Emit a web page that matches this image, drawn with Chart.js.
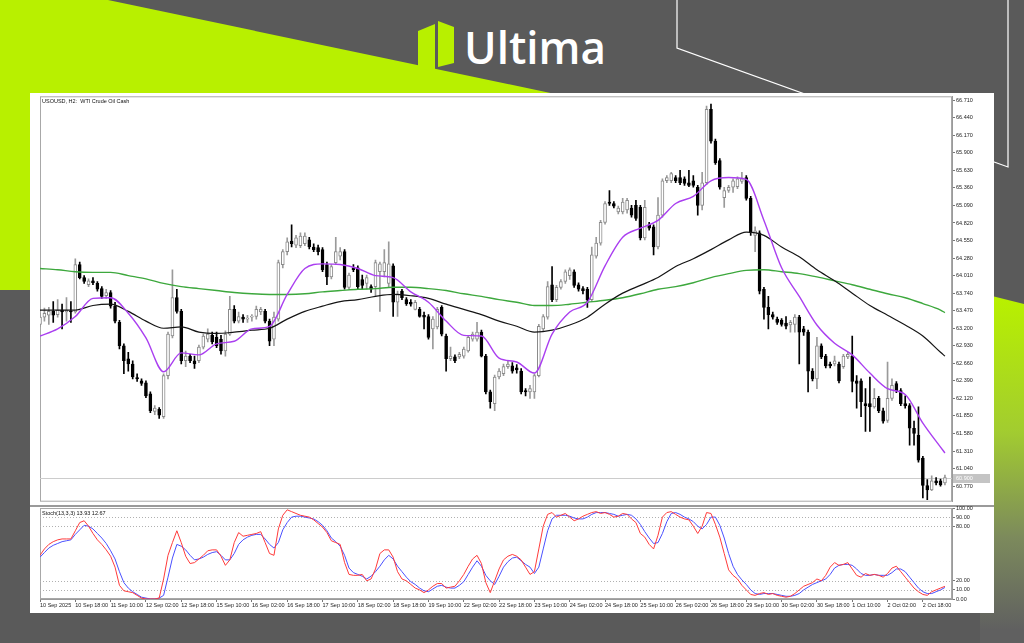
<!DOCTYPE html>
<html>
<head>
<meta charset="utf-8">
<title>USOUSD H2 - WTI Crude Oil Cash</title>
<script src="https://cdn.jsdelivr.net/npm/chart.js@4.4.1/dist/chart.umd.min.js"></script>
<style>
  html, body { margin: 0; padding: 0; }
  body { width: 1024px; height: 643px; position: relative; overflow: hidden; background: #5a5a5a; }
  #bg { position: absolute; left: 0; top: 0; }
  #sheet { position: absolute; left: 30px; top: 93px; width: 964px; height: 520px; background: #fff; }
  #splitter { position: absolute; left: 30px; top: 505px; width: 964px; height: 2px; background: #9a9a9a; }
  #priceChart { position: absolute; left: 30px; top: 92px; }
  #stochChart { position: absolute; left: 30px; top: 503px; }
</style>
</head>
<body>
<svg id="bg" width="1024" height="643">
  <defs>
    <linearGradient id="limeFade" gradientUnits="userSpaceOnUse" x1="0" y1="300" x2="0" y2="630">
      <stop offset="0" stop-color="#b8f000"/>
      <stop offset="0.4" stop-color="#a2cc30"/>
      <stop offset="0.72" stop-color="#7c8a5c"/>
      <stop offset="1" stop-color="#606060"/>
    </linearGradient>
  </defs>
  <polygon points="0,0 108,0 560,95 30,95 30,290 0,290" fill="#b8f000"/>
  <polygon points="980,293 1024,304 1024,643 980,643" fill="url(#limeFade)"/>
  <polyline points="677,0 677,48 1008,167 1008,0" fill="none" stroke="#ffffff" stroke-width="1.2"/>
  <polygon points="418,31 435,24 435,72 418,68" fill="#b8f000"/>
  <polygon points="438,21 454,27 454,63 438,67" fill="#b8f000"/>
  <text x="464" y="64" font-family="Open Sans, Lato, sans-serif" font-weight="600" font-size="45" fill="#ffffff" textLength="142" lengthAdjust="spacingAndGlyphs">Ultima</text>
</svg>
<div id="sheet"></div>
<div id="splitter"></div>
<canvas id="priceChart" width="964" height="414"></canvas>
<canvas id="stochChart" width="964" height="110"></canvas>
<script>
// H2 candles, 8 per row (one row = one time label step)
const opens = [
  63.26, 63.37, 63.40, 63.46, 63.41, 63.48, 63.45, 63.46,
  63.45, 64.18, 63.98, 63.87, 63.93, 63.89, 63.81, 63.70,
  63.75, 63.54, 63.29, 62.93, 62.73, 62.65, 62.44, 62.39,
  62.36, 62.19, 61.92, 61.95, 61.84, 62.47, 63.08, 63.67,
  63.46, 62.70, 62.77, 62.70, 62.70, 62.91, 63.03, 63.09,
  63.06, 63.03, 62.85, 63.11, 63.49, 63.31, 63.37, 63.34,
  63.37, 63.38, 63.45, 63.46, 63.31, 63.03, 63.34, 64.18,
  64.38, 64.54, 64.48, 64.47, 64.50, 64.56, 64.45, 64.44,
  64.41, 64.18, 63.99, 64.21, 64.31, 64.38, 63.83, 64.13,
  64.13, 63.95, 63.89, 63.84, 63.84, 64.07, 64.07, 63.89,
  64.16, 63.60, 63.77, 63.64, 63.60, 63.49, 63.49, 63.40,
  63.38, 63.19, 63.22, 63.52, 63.08, 62.73, 62.76, 62.76,
  62.77, 62.85, 63.03, 63.03, 63.14, 62.77, 62.22, 62.04,
  62.45, 62.50, 62.61, 62.62, 62.59, 62.54, 62.24, 62.22,
  62.22, 62.47, 63.19, 63.37, 63.87, 63.64, 63.83, 63.92,
  64.01, 64.07, 63.87, 63.81, 63.80, 63.64, 64.31, 64.51,
  64.83, 65.14, 65.12, 64.99, 64.99, 65.02, 65.05, 65.09,
  65.06, 64.59, 64.79, 64.76, 64.45, 64.94, 65.47, 65.47,
  65.52, 65.52, 65.50, 65.44, 65.47, 65.37, 65.09, 65.44,
  66.57, 66.08, 65.78, 65.21, 65.32, 65.37, 65.38, 65.46,
  65.52, 65.20, 64.63, 64.67, 63.80, 63.52, 63.41, 63.34,
  63.32, 63.28, 63.25, 63.26, 63.37, 63.19, 63.14, 62.54,
  62.42, 62.93, 62.77, 62.65, 62.65, 62.65, 62.61, 62.76,
  62.77, 62.39, 62.39, 62.04, 62.04, 61.99, 62.12, 61.93,
  61.78, 62.12, 62.35, 62.24, 62.04, 62.01, 61.66, 61.55,
  61.20, 60.78, 60.71, 60.85, 60.85, 60.82
];
const highs = [
  63.43, 63.51, 63.52, 63.61, 63.64, 63.57, 63.67, 63.61,
  64.27, 64.22, 64.01, 63.96, 63.98, 63.92, 63.84, 63.80,
  63.78, 63.60, 63.32, 62.96, 62.83, 62.70, 62.50, 62.42,
  62.39, 62.22, 62.01, 61.98, 62.50, 63.14, 64.10, 63.80,
  63.49, 62.85, 62.80, 62.77, 62.94, 63.11, 63.19, 63.14,
  63.14, 63.09, 63.16, 63.69, 63.55, 63.45, 63.41, 63.40,
  63.41, 63.54, 63.52, 63.49, 63.34, 63.45, 64.25, 64.41,
  64.59, 64.79, 64.63, 64.67, 64.67, 64.60, 64.50, 64.48,
  64.44, 64.22, 64.18, 64.60, 64.44, 64.41, 64.05, 64.18,
  64.16, 64.02, 64.02, 63.87, 64.25, 64.22, 64.41, 64.53,
  64.19, 63.77, 63.80, 63.67, 63.64, 63.63, 63.52, 63.45,
  63.41, 63.38, 63.52, 63.55, 63.11, 62.91, 62.79, 62.83,
  62.91, 63.09, 63.14, 63.29, 63.17, 62.80, 62.25, 62.48,
  62.58, 62.65, 62.70, 62.67, 62.64, 62.58, 62.27, 62.32,
  62.50, 63.26, 63.41, 63.92, 64.15, 63.86, 63.95, 64.10,
  64.13, 64.10, 63.90, 63.84, 63.83, 64.45, 64.60, 64.86,
  65.15, 65.32, 65.15, 65.08, 65.20, 65.20, 65.09, 65.17,
  65.09, 65.17, 64.83, 64.79, 65.21, 65.50, 65.55, 65.60,
  65.55, 65.63, 65.53, 65.63, 65.55, 65.40, 65.60, 66.62,
  66.65, 66.11, 65.81, 65.37, 65.40, 65.50, 65.53, 65.60,
  65.55, 65.23, 64.76, 64.70, 63.83, 63.69, 63.45, 63.37,
  63.35, 63.38, 63.32, 63.41, 63.40, 63.23, 63.17, 62.58,
  63.06, 62.96, 62.80, 62.68, 62.77, 62.68, 62.80, 62.83,
  63.08, 62.47, 62.42, 62.27, 62.45, 62.27, 62.15, 61.97,
  62.68, 62.42, 62.38, 62.27, 62.16, 62.04, 61.77, 61.99,
  61.23, 60.87, 60.93, 60.90, 60.88, 60.94
];
const lows = [
  63.22, 63.31, 63.26, 63.29, 63.37, 63.19, 63.31, 63.29,
  63.43, 63.96, 63.89, 63.84, 63.87, 63.77, 63.66, 63.66,
  63.51, 63.28, 62.88, 62.50, 62.54, 62.42, 62.38, 62.32,
  62.13, 61.90, 61.87, 61.81, 61.81, 62.42, 63.05, 63.43,
  62.65, 62.61, 62.67, 62.58, 62.67, 62.88, 62.99, 62.96,
  62.90, 62.80, 62.77, 63.09, 63.28, 63.28, 63.29, 63.29,
  63.31, 63.34, 63.41, 63.28, 62.93, 62.93, 63.31, 64.13,
  64.33, 64.45, 64.44, 64.44, 64.47, 64.42, 64.38, 64.33,
  64.07, 63.87, 63.96, 64.18, 64.25, 63.80, 63.80, 64.07,
  63.81, 63.80, 63.80, 63.75, 63.69, 63.46, 63.99, 63.84,
  63.38, 63.38, 63.64, 63.55, 63.54, 63.48, 63.37, 63.19,
  63.03, 62.88, 63.19, 63.08, 62.54, 62.70, 62.67, 62.73,
  62.74, 62.83, 63.00, 63.00, 62.76, 62.19, 61.97, 61.93,
  62.42, 62.47, 62.58, 62.51, 62.51, 62.19, 62.16, 62.12,
  62.12, 62.45, 63.15, 63.34, 63.61, 63.61, 63.80, 63.89,
  63.95, 63.83, 63.77, 63.73, 63.52, 63.61, 64.28, 64.48,
  64.80, 65.09, 65.05, 64.96, 64.96, 64.97, 64.91, 64.86,
  64.56, 64.56, 64.71, 64.33, 64.42, 64.91, 65.44, 65.44,
  65.44, 65.41, 65.40, 65.38, 65.37, 64.94, 65.02, 65.41,
  66.05, 65.72, 65.34, 65.06, 65.29, 65.29, 65.35, 65.43,
  65.17, 64.63, 64.38, 63.73, 63.34, 63.19, 63.34, 63.26,
  63.23, 63.19, 63.14, 63.14, 62.65, 63.09, 62.22, 62.39,
  62.27, 62.73, 62.59, 62.59, 62.62, 62.36, 62.58, 62.73,
  62.22, 61.97, 61.84, 61.61, 61.61, 61.97, 61.90, 61.74,
  61.75, 62.09, 62.21, 62.01, 61.97, 61.40, 61.40, 61.14,
  60.59, 60.56, 60.70, 60.79, 60.77, 60.79
];
const closes = [
  63.37, 63.43, 63.46, 63.40, 63.48, 63.45, 63.48, 63.45,
  64.18, 63.98, 63.92, 63.93, 63.90, 63.80, 63.69, 63.75,
  63.54, 63.31, 62.93, 62.70, 62.65, 62.45, 62.42, 62.35,
  62.16, 61.93, 61.97, 61.86, 62.47, 63.11, 63.67, 63.46,
  62.70, 62.77, 62.70, 62.65, 62.91, 63.08, 63.11, 62.99,
  62.93, 62.85, 63.11, 63.49, 63.31, 63.38, 63.34, 63.35,
  63.38, 63.49, 63.49, 63.31, 63.00, 63.37, 64.21, 64.38,
  64.53, 64.50, 64.59, 64.62, 64.62, 64.45, 64.41, 64.38,
  64.10, 63.99, 64.15, 64.38, 64.38, 63.83, 64.02, 64.10,
  63.84, 63.86, 63.98, 63.80, 64.21, 64.19, 64.21, 64.19,
  63.60, 63.73, 63.67, 63.58, 63.57, 63.60, 63.38, 63.37,
  63.06, 63.34, 63.49, 63.11, 62.73, 62.77, 62.70, 62.80,
  62.88, 63.06, 63.11, 63.14, 62.77, 62.22, 62.07, 62.45,
  62.54, 62.61, 62.65, 62.54, 62.56, 62.22, 62.22, 62.27,
  62.47, 63.23, 63.38, 63.84, 63.64, 63.83, 63.92, 64.07,
  64.10, 63.86, 63.80, 63.78, 63.64, 64.33, 64.51, 64.83,
  65.12, 65.12, 65.08, 65.05, 65.14, 65.17, 64.94, 64.89,
  64.59, 65.06, 64.74, 64.45, 64.94, 65.47, 65.52, 65.58,
  65.47, 65.44, 65.43, 65.40, 65.40, 65.09, 65.44, 66.57,
  66.08, 65.75, 65.37, 65.32, 65.37, 65.47, 65.50, 65.50,
  65.20, 64.67, 64.70, 63.77, 63.52, 63.41, 63.37, 63.29,
  63.26, 63.23, 63.29, 63.37, 63.14, 63.14, 62.54, 62.42,
  62.93, 62.76, 62.62, 62.62, 62.70, 62.39, 62.77, 62.80,
  62.38, 62.35, 62.07, 62.01, 61.99, 62.12, 61.93, 61.77,
  62.12, 62.32, 62.24, 62.04, 62.01, 61.66, 61.58, 61.17,
  60.78, 60.71, 60.85, 60.82, 60.79, 60.90
];

// moving averages read every 4 bars (bar index in maBars)
const maBars = [
  0, 4, 8, 12, 16, 20, 24, 28, 32, 36, 40, 44, 48, 52, 56, 60, 64, 68, 72, 76, 80, 84, 88, 92, 96, 100,
  104, 108, 112, 116, 120, 124, 128, 132, 136, 140, 144, 148, 152, 156, 160, 164, 168, 172, 176, 180,
  184, 188, 192, 196, 200, 204, 205
];
const maFast = [
  63.08, 63.19, 63.38, 63.66, 63.67, 63.43, 63.05, 62.53, 62.82, 62.79, 62.96, 63.00, 63.19, 63.23,
  63.72, 64.12, 64.19, 64.18, 64.12, 64.01, 63.98, 63.76, 63.60, 63.31, 63.09, 63.08, 62.74, 62.68,
  62.51, 63.11, 63.45, 63.60, 64.16, 64.60, 64.74, 64.86, 65.12, 65.23, 65.47, 65.52, 65.49, 64.86,
  64.13, 63.69, 63.25, 62.97, 62.79, 62.51, 62.27, 62.18, 61.74, 61.37, 61.28
];
const maMid = [
  63.48, 63.48, 63.48, 63.55, 63.57, 63.46, 63.31, 63.20, 63.22, 63.14, 63.12, 63.14, 63.17, 63.20,
  63.34, 63.46, 63.54, 63.61, 63.64, 63.69, 63.72, 63.70, 63.66, 63.57, 63.49, 63.41, 63.31, 63.23,
  63.14, 63.17, 63.25, 63.37, 63.57, 63.74, 63.86, 63.98, 64.15, 64.27, 64.41, 64.56, 64.68, 64.63,
  64.45, 64.30, 64.10, 63.93, 63.74, 63.55, 63.40, 63.25, 63.08, 62.83, 62.77
];
const maLong = [
  64.12, 64.10, 64.07, 64.06, 64.06, 64.01, 63.96, 63.89, 63.84, 63.81, 63.78, 63.75, 63.73, 63.72,
  63.72, 63.73, 63.76, 63.78, 63.80, 63.81, 63.83, 63.83, 63.81, 63.78, 63.73, 63.69, 63.64, 63.60,
  63.55, 63.55, 63.57, 63.60, 63.63, 63.67, 63.73, 63.80, 63.84, 63.90, 63.98, 64.04, 64.09, 64.10,
  64.07, 64.04, 63.99, 63.93, 63.87, 63.80, 63.73, 63.67, 63.58, 63.48, 63.44
];

// Stoch(13,3,3): main (red) and signal (blue), one value per bar
const stochMain = [
  48, 55, 60, 63, 65, 66, 66, 66, 75, 84,
  86, 80, 72, 65, 60, 54, 47, 35, 15, 9,
  8, 7, 4, 1, 0, 0, 0, 1, 22, 48,
  62, 75, 62, 47, 39, 40, 44, 48, 53, 54,
  54, 47, 37, 43, 62, 73, 69, 70, 71, 72,
  74, 62, 50, 48, 77, 92, 98, 96, 94, 92,
  91, 90, 87, 83, 79, 73, 64, 62, 60, 40,
  27, 26, 26, 27, 20, 22, 33, 50, 54, 54,
  46, 30, 22, 20, 16, 12, 10, 7, 10, 14,
  17, 17, 12, 13, 14, 20, 27, 36, 44, 48,
  39, 18, 7, 20, 33, 43, 47, 49, 47, 43,
  35, 27, 30, 55, 80, 93, 95, 90, 92, 94,
  90, 86, 88, 91, 93, 95, 96, 94, 95, 93,
  90, 91, 94, 93, 88, 84, 72, 68, 60, 55,
  70, 90, 95, 96, 93, 90, 88, 87, 80, 72,
  80, 95, 94, 82, 68, 50, 32, 26, 22, 15,
  10, 5, 4, 6, 7, 5, 6, 4, 3, 2,
  3, 6, 10, 14, 16, 18, 22, 20, 26, 35,
  40, 37, 38, 40, 33, 26, 24, 28, 26, 27,
  26, 24, 28, 34, 36, 30, 24, 18, 12, 8,
  5, 4, 8, 10, 12, 13.93
];
const stochSignal = [
  46, 51, 56, 59, 61, 63, 64, 65, 71, 76,
  81, 80, 77, 72, 67, 61, 53, 44, 30, 18,
  12, 8, 5, 2, 1, 0, 0, 1, 4, 24,
  45, 60, 58, 54, 48, 43, 44, 46, 49, 51,
  52, 48, 43, 43, 50, 60, 65, 68, 70, 71,
  71, 66, 60, 56, 62, 76, 84, 90, 91, 91,
  90, 89, 88, 85, 81, 75, 67, 63, 58, 48,
  34, 29, 27, 25, 22, 25, 30, 36, 43, 48,
  44, 36, 30, 24, 19, 16, 12, 9, 8, 11,
  14, 15, 13, 12, 12, 15, 19, 27, 35, 42,
  36, 26, 20, 16, 25, 35, 41, 45, 46, 42,
  38, 35, 28, 35, 55, 75, 88, 92, 92, 92,
  91, 89, 88, 88, 90, 93, 95, 95, 95, 94,
  93, 91, 92, 93, 92, 88, 82, 74, 67, 61,
  62, 72, 85, 94, 95, 93, 90, 88, 85, 80,
  77, 82, 90, 90, 81, 67, 50, 36, 27, 21,
  16, 10, 6, 5, 6, 6, 6, 5, 4, 3,
  3, 4, 6, 10, 13, 16, 18, 20, 22, 27,
  34, 37, 38, 38, 37, 33, 28, 26, 26, 27,
  26, 26, 26, 29, 33, 33, 30, 24, 18, 12,
  8, 6, 6, 8, 10, 12.67
];

// axis ticks
const priceTicks = [66.71, 66.44, 66.17, 65.90, 65.63, 65.36, 65.09, 64.82, 64.55, 64.28, 64.01, 63.74,
  63.47, 63.20, 62.93, 62.66, 62.39, 62.12, 61.85, 61.58, 61.31, 61.04, 60.77];
const stochTicks = [100, 90, 80, 20, 10, 0];
const stochLevels = [90, 80, 20, 10];
const timeLabels = ['10 Sep 2025', '10 Sep 18:00', '11 Sep 10:00', '12 Sep 02:00', '12 Sep 18:00',
  '15 Sep 10:00', '16 Sep 02:00', '16 Sep 18:00', '17 Sep 10:00', '18 Sep 02:00', '18 Sep 18:00',
  '19 Sep 10:00', '22 Sep 02:00', '22 Sep 18:00', '23 Sep 10:00', '24 Sep 02:00', '24 Sep 18:00',
  '25 Sep 10:00', '26 Sep 02:00', '26 Sep 18:00', '29 Sep 10:00', '30 Sep 02:00', '30 Sep 18:00',
  '1 Oct 10:00', '2 Oct 02:00', '2 Oct 18:00'];

const BARS_PER_LABEL = 8;
const X_MIN = 0, X_MAX = 206.6;

Chart.defaults.font.family = "'Liberation Sans', 'DejaVu Sans', sans-serif";
Chart.defaults.font.size = 5.5;
Chart.defaults.color = '#222';

const isUp = i => closes[i] >= opens[i];

// frame around a plot panel + optional caption in its top-left corner
const panelFrame = {
    id: 'panelFrame',
    beforeDraw(chart, args, opts) {
        const { ctx, chartArea: a } = chart;
        ctx.save();
        if (opts.splitter) {
            ctx.fillStyle = '#9a9a9a';
            ctx.fillRect(0, 2, chart.width, 2);
        }
        ctx.strokeStyle = '#a8a8a8';
        ctx.lineWidth = 1;
        ctx.strokeRect(a.left + 0.5, a.top + 0.5, a.right - a.left - 1, a.bottom - a.top - 1);
        ctx.restore();
    },
    afterDraw(chart, args, opts) {
        if (!opts.title) return;
        const { ctx, chartArea: a } = chart;
        ctx.save();
        ctx.font = "5.5px 'Liberation Sans', sans-serif";
        ctx.fillStyle = '#111';
        ctx.textBaseline = 'middle';
        ctx.fillText(opts.title, a.left + 2, a.top + 5);
        ctx.restore();
    }
};

// last price: grey line across the chart and a grey tag on the price axis
const lastPriceMark = {
    id: 'lastPriceMark',
    beforeDatasetsDraw(chart) {
        const { ctx, chartArea: a } = chart;
        const y = Math.round(chart.scales.y.getPixelForValue(closes[closes.length - 1])) + 0.5;
        ctx.save();
        ctx.strokeStyle = '#cccccc';
        ctx.lineWidth = 1;
        ctx.beginPath();
        ctx.moveTo(a.left, y);
        ctx.lineTo(a.right, y);
        ctx.stroke();
        ctx.restore();
    },
    afterDraw(chart) {
        const { ctx, chartArea: a } = chart;
        const last = closes[closes.length - 1];
        const y = Math.round(chart.scales.y.getPixelForValue(last));
        ctx.save();
        ctx.fillStyle = '#c4c4c4';
        ctx.fillRect(a.right + 1, y - 4, 37, 9);
        ctx.fillStyle = '#ffffff';
        ctx.font = "5.5px 'Liberation Sans', sans-serif";
        ctx.textBaseline = 'middle';
        ctx.fillText(last.toFixed(3), a.right + 4, y + 0.5);
        ctx.restore();
    }
};

// dotted stochastic levels
const stochLevelLines = {
    id: 'stochLevelLines',
    beforeDatasetsDraw(chart) {
        const { ctx, chartArea: a, scales } = chart;
        ctx.save();
        ctx.strokeStyle = '#b0b0b0';
        ctx.lineWidth = 1;
        ctx.setLineDash([1, 2]);
        stochLevels.forEach(v => {
            const y = Math.round(scales.y.getPixelForValue(v)) + 0.5;
            ctx.beginPath();
            ctx.moveTo(a.left, y);
            ctx.lineTo(a.right, y);
            ctx.stroke();
        });
        ctx.restore();
    }
};

function maDataset(values, color, width) {
    return {
        type: 'line',
        data: maBars.map((b, k) => ({ x: b, y: values[k] })),
        borderColor: color,
        borderWidth: width,
        pointRadius: 0,
        cubicInterpolationMode: 'monotone',
        order: 0
    };
}

// ==============================================
// PRICE PANEL (candles + 3 moving averages)
// ==============================================
const barIndex = closes.map((_, i) => i);

new Chart(document.getElementById('priceChart'), {
    type: 'bar',
    data: {
        datasets: [
            maDataset(maFast, '#aa3ff0', 1.4),
            maDataset(maMid, '#151515', 1.2),
            maDataset(maLong, '#3da83d', 1.4),
            {
                type: 'bar',
                data: barIndex.map(i => ({ x: i, y: [opens[i], closes[i]] })),
                grouped: false,
                barThickness: 3,
                minBarLength: 1,
                borderWidth: 1,
                borderSkipped: false,
                backgroundColor: ctx => isUp(ctx.dataIndex) ? '#ffffff' : '#000000',
                borderColor: ctx => isUp(ctx.dataIndex) ? '#8a8a8a' : '#000000',
                order: 1
            },
            {
                type: 'bar',
                data: barIndex.map(i => ({ x: i, y: [lows[i], highs[i]] })),
                grouped: false,
                barThickness: 1,
                backgroundColor: ctx => isUp(ctx.dataIndex) ? '#9a9a9a' : '#000000',
                order: 2
            }
        ]
    },
    options: {
        responsive: false,
        animation: false,
        devicePixelRatio: 1,
        layout: { padding: { left: 10, top: 3, right: 0, bottom: 2 } },
        plugins: {
            legend: { display: false },
            tooltip: { enabled: false },
            panelFrame: { title: 'USOUSD, H2:  WTI Crude Oil Cash' }
        },
        scales: {
            x: { type: 'linear', display: false, min: X_MIN, max: X_MAX, offset: false, grid: { offset: false } },
            y: {
                position: 'right',
                min: 60.53,
                max: 66.77,
                afterFit: s => { s.width = 42; },
                afterBuildTicks: s => { s.ticks = priceTicks.map(v => ({ value: v })); },
                ticks: { callback: v => v.toFixed(3), autoSkip: false, padding: 1, color: '#222' },
                grid: { drawOnChartArea: false, drawTicks: true, tickLength: 3, color: '#777' },
                border: { display: true, color: '#9a9a9a' }
            }
        }
    },
    plugins: [panelFrame, lastPriceMark]
});

// ==============================================
// STOCHASTIC PANEL
// ==============================================
new Chart(document.getElementById('stochChart'), {
    type: 'line',
    data: {
        datasets: [
            {
                data: stochMain.map((v, i) => ({ x: i, y: v })),
                borderColor: '#ff3a3a',
                borderWidth: 1,
                pointRadius: 0,
                tension: 0
            },
            {
                data: stochSignal.map((v, i) => ({ x: i, y: v })),
                borderColor: '#4a50ff',
                borderWidth: 1,
                pointRadius: 0,
                tension: 0
            }
        ]
    },
    options: {
        responsive: false,
        animation: false,
        devicePixelRatio: 1,
        layout: { padding: { left: 10, top: 5, right: 0, bottom: 0 } },
        plugins: {
            legend: { display: false },
            tooltip: { enabled: false },
            panelFrame: {
                splitter: true,
                title: 'Stoch(13,3,3) ' + stochMain[stochMain.length - 1].toFixed(2) + ' ' +
                    stochSignal[stochSignal.length - 1].toFixed(2)
            }
        },
        scales: {
            x: {
                type: 'linear',
                min: X_MIN,
                max: X_MAX,
                afterFit: s => { s.height = 14; },
                afterBuildTicks: s => { s.ticks = timeLabels.map((t, k) => ({ value: k * BARS_PER_LABEL })); },
                ticks: {
                    callback: v => timeLabels[Math.round(v / BARS_PER_LABEL)],
                    autoSkip: false,
                    maxRotation: 0,
                    align: 'start',
                    padding: 0,
                    color: '#222'
                },
                grid: { drawOnChartArea: false, drawTicks: true, tickLength: 3, color: '#777' },
                border: { display: true, color: '#9a9a9a' }
            },
            y: {
                position: 'right',
                min: 0,
                max: 100,
                afterFit: s => { s.width = 42; },
                afterBuildTicks: s => { s.ticks = stochTicks.map(v => ({ value: v })); },
                ticks: { callback: v => v.toFixed(2), autoSkip: false, padding: 1, color: '#222' },
                grid: { drawOnChartArea: false, drawTicks: true, tickLength: 3, color: '#777' },
                border: { display: true, color: '#9a9a9a' }
            }
        }
    },
    plugins: [panelFrame, stochLevelLines]
});
</script>
</body>
</html>
